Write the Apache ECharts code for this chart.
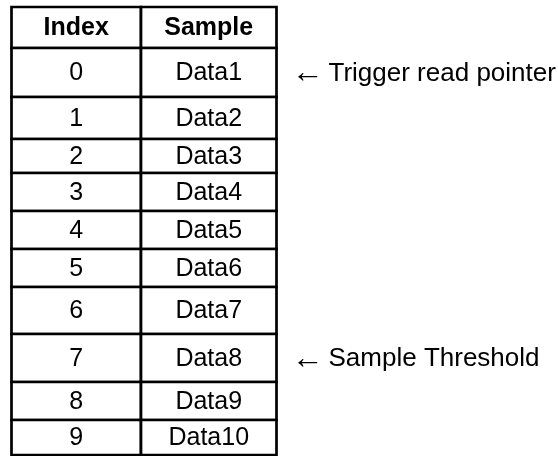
<!DOCTYPE html>
<html>
<head>
<meta charset="utf-8">
<script src="https://cdn.jsdelivr.net/npm/echarts@6/dist/echarts.min.js"></script>
<style>html,body{margin:0;padding:0;background:#fff;}#chart{width:558px;height:456px;}</style>
</head>
<body>
<div id="chart"></div>
<script>
// ---- data ----
var headers = ['Index', 'Sample'];
var indices = ['0', '1', '2', '3', '4', '5', '6', '7', '8', '9'];
var samples = ['Data1', 'Data2', 'Data3', 'Data4', 'Data5', 'Data6', 'Data7', 'Data8', 'Data9', 'Data10'];
var annotationRows = [0, 7];
var annotationTexts = ['Trigger read pointer', 'Sample Threshold'];

// ---- layout (relative sizes) ----
var rowHeights = [41, 49, 42, 34, 38, 38, 38, 47, 48, 38, 35];
var colWidths = [129.5, 135.5];

var rowStarts = [];
var acc = 0;
rowHeights.forEach(function (h) { rowStarts.push(acc); acc += h; });
var totalH = acc;
var colStarts = [0, colWidths[0]];
var totalW = colWidths[0] + colWidths[1];

var cells = [];
headers.forEach(function (h, c) {
  cells.push([colStarts[c], rowStarts[0], colStarts[c] + colWidths[c], rowStarts[0] + rowHeights[0], h, 1]);
});
indices.forEach(function (idx, r) {
  var s = rowStarts[r + 1], e = s + rowHeights[r + 1];
  cells.push([colStarts[0], s, colStarts[0] + colWidths[0], e, idx, 0]);
  cells.push([colStarts[1], s, colStarts[1] + colWidths[1], e, samples[r], 0]);
});

var notes = annotationRows.map(function (r, i) {
  return [totalW, rowStarts[r + 1] + rowHeights[r + 1] / 2, annotationTexts[i]];
});

var FONT = '"Liberation Sans", Arial, sans-serif';

var chart = echarts.init(document.getElementById('chart'), null, { renderer: 'canvas' });
chart.setOption({
  animation: false,
  backgroundColor: '#ffffff',
  grid: { left: 11.5, right: 281.5, top: 7, bottom: 1 },
  xAxis: { type: 'value', min: 0, max: totalW, show: false },
  yAxis: { type: 'value', min: 0, max: totalH, inverse: true, show: false },
  series: [
    {
      type: 'custom',
      data: cells,
      clip: false,
      renderItem: function (params, api) {
        var p0 = api.coord([api.value(0), api.value(1)]);
        var p1 = api.coord([api.value(2), api.value(3)]);
        var d = cells[params.dataIndex];
        return {
          type: 'group',
          children: [
            {
              type: 'rect',
              shape: { x: p0[0], y: p0[1], width: p1[0] - p0[0], height: p1[1] - p0[1] },
              style: { fill: '#ffffff', stroke: '#000000', lineWidth: 2.7 }
            },
            {
              type: 'text',
              style: {
                x: (p0[0] + p1[0]) / 2,
                y: (p0[1] + p1[1]) / 2 + 1,
                text: d[4],
                fill: '#000000',
                font: (d[5] ? 'bold ' : '') + '25px ' + FONT,
                align: 'center',
                verticalAlign: 'middle'
              }
            }
          ]
        };
      }
    },
    {
      type: 'custom',
      data: notes,
      clip: false,
      renderItem: function (params, api) {
        var p = api.coord([api.value(0), api.value(1)]);
        return {
          type: 'group',
          children: [
            {
              type: 'text',
              style: {
                x: p[0] + 15,
                y: p[1] + 1,
                text: '\u2190',
                fill: '#000000',
                font: '32px ' + FONT,
                align: 'left',
                verticalAlign: 'middle'
              }
            },
            {
              type: 'text',
              style: {
                x: p[0] + 52,
                y: p[1] + 1,
                text: notes[params.dataIndex][2],
                fill: '#000000',
                font: '26px ' + FONT,
                align: 'left',
                verticalAlign: 'middle'
              }
            }
          ]
        };
      }
    }
  ]
});
</script>
</body>
</html>
